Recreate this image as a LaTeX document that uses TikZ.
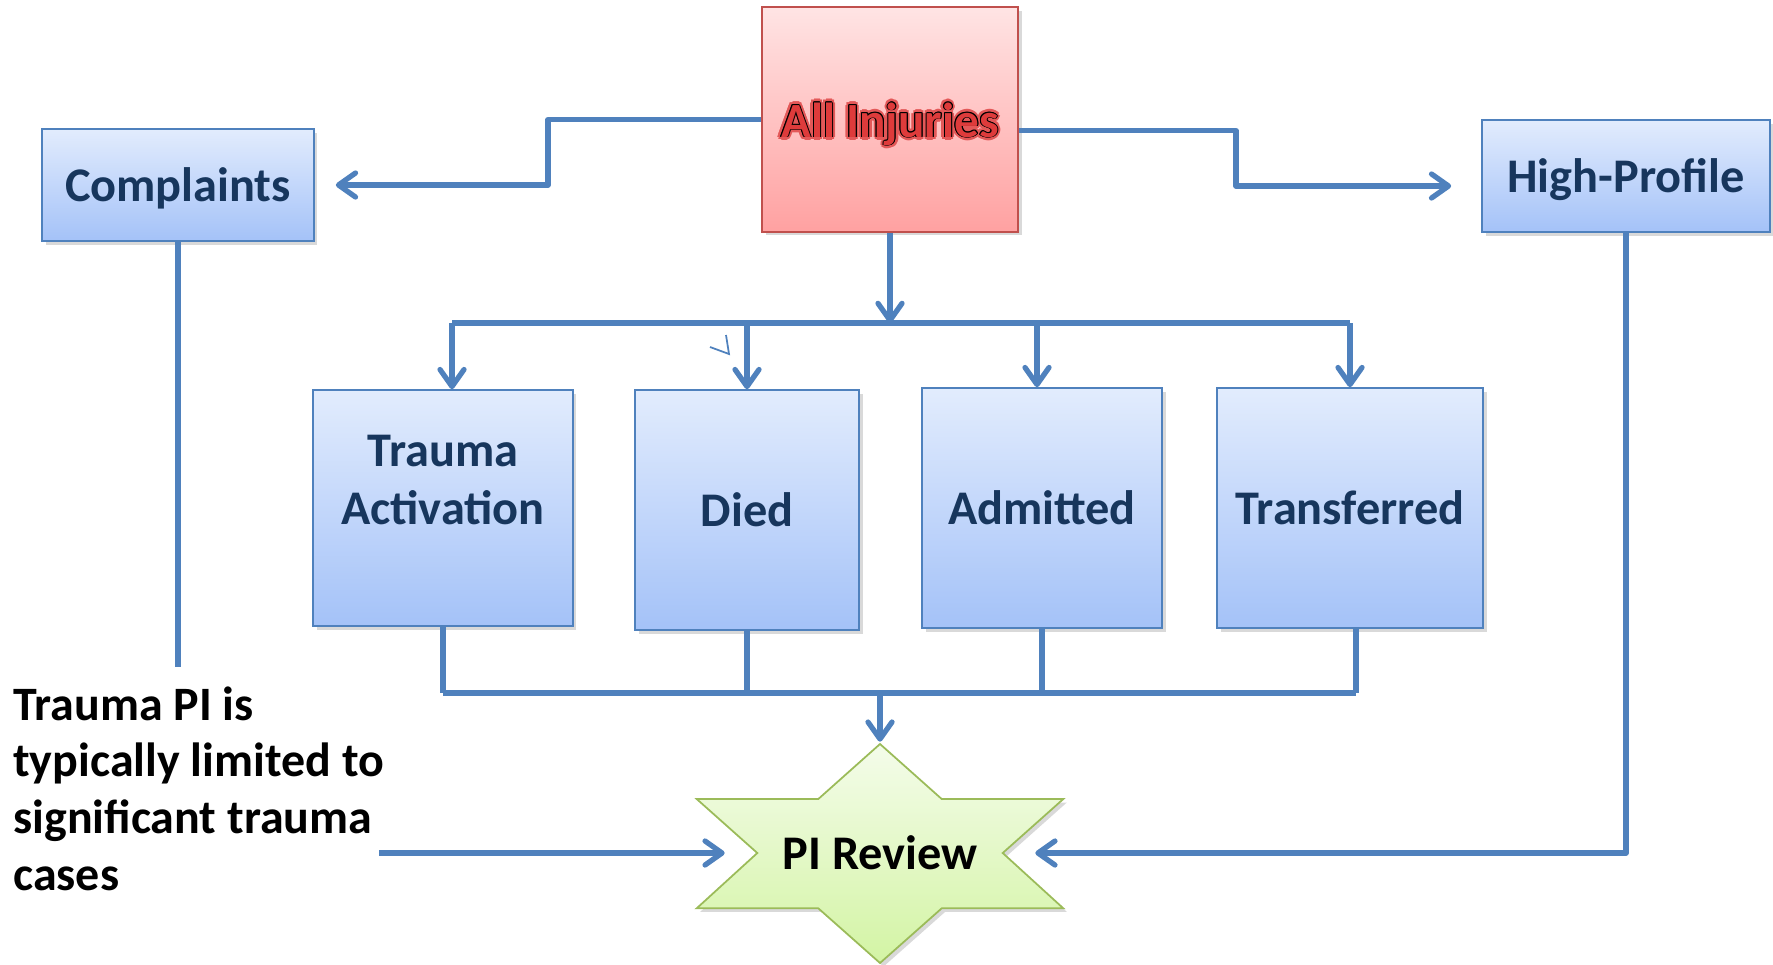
\documentclass[tikz,border=0pt]{standalone}
\usepackage{fontspec}
\setmainfont{Carlito}
\usepackage{tikz}
\usetikzlibrary{arrows.meta,positioning,shadows,calc}

\definecolor{linkblue}{HTML}{4F81BD}
\definecolor{boxtop}{HTML}{E2ECFD}
\definecolor{boxbot}{HTML}{A4C2F8}
\definecolor{navy}{HTML}{17365D}
\definecolor{redtop}{HTML}{FFE4E4}
\definecolor{redbot}{HTML}{FFA1A1}
\definecolor{redline}{HTML}{C0504D}
\definecolor{injred}{HTML}{DE3B3B}
\definecolor{startop}{HTML}{F4FCEA}
\definecolor{starbot}{HTML}{D3F4A4}
\definecolor{starline}{HTML}{9BBB59}

\newlength\ringr
\newcommand\ring[3]{\setlength\ringr{#1}%
  \foreach \dx/\dy in {1/0,.7/.7,0/1,-.7/.7,-1/0,-.7/-.7,0/-1,.7/-.7}
    {\makebox[0pt][l]{\kern\dx\ringr\raisebox{\dy\ringr}{\color{#2}#3}}}}
\newcommand\glowtext[1]{\ring{2pt}{injred!85}{#1}\ring{1.2pt}{injred!85}{#1}%
  \ring{.55pt}{black}{#1}{\color{injred}#1}}

\begin{document}
\begin{tikzpicture}[x=.02cm,y=-.02cm,
  link/.style={draw=linkblue,line width=3pt,line join=round},
  arr/.style={link,-{Straight Barb[length=3.4mm,width=4.8mm,round]}},
  shade box/.style={line width=1pt,inner sep=0pt,
    drop shadow={shadow xshift=2pt,shadow yshift=-2pt,opacity=.3}},
  bluebox/.style={shade box,draw=linkblue,top color=boxtop,bottom color=boxbot,
    font=\fontsize{27.5}{33}\selectfont\bfseries,text=navy,align=center},
  redbox/.style={shade box,draw=redline,top color=redtop,bottom color=redbot,
    font=\fontsize{28}{34}\selectfont\bfseries}]
  \useasboundingbox (0,0) rectangle (1773,964);

  % boxes
  \node[redbox,minimum width=5.12cm,minimum height=4.5cm] (allinj) at (890,119.5) {\raisebox{-.35cm}[0pt][0pt]{\glowtext{All Injuries}}};
  \node[bluebox,minimum width=5.44cm,minimum height=2.24cm,text depth=0pt] (compl) at (178,185) {Complaints};
  \node[bluebox,minimum width=5.76cm,minimum height=2.24cm,text depth=0pt] (hprof) at (1626,176) {High-Profile};
  \node[bluebox,minimum width=5.2cm,minimum height=4.72cm,text depth=1.12cm] (trauma) at (443,508) {Trauma\\Activation};
  \node[bluebox,minimum width=4.48cm,minimum height=4.8cm] (died) at (747,510) {Died};
  \node[bluebox,minimum width=4.8cm,minimum height=4.8cm] (admit) at (1042,508) {Admitted};
  \node[bluebox,minimum width=5.32cm,minimum height=4.8cm] (trans) at (1350,508) {Transferred};

  % review star
  \path[draw=starline,line width=1pt,top color=startop,bottom color=starbot,
    drop shadow={shadow xshift=2pt,shadow yshift=-2pt,opacity=.3}]
    (880,744) -- (941.7,799) -- (1063.3,799) -- (1002.7,853) -- (1063.3,908.3)
    -- (941.7,908.3) -- (880,963) -- (818.3,908.3) -- (696.7,908.3)
    -- (757.3,853) -- (696.7,799) -- (818.3,799) -- cycle;
  \node[minimum width=6.2cm,minimum height=4.44cm,inner sep=0pt,
    font=\fontsize{27.5}{33}\selectfont\bfseries] (review) at (880,853) {PI Review};

  \node[anchor=north west,inner sep=0pt,align=left,
    font=\fontsize{27.3}{32.4}\selectfont\bfseries] (note) at (13,686)
    {Trauma PI is\\typically limited to\\significant trauma\\cases};

  % feeds from all injuries
  \coordinate (lbend) at (548,185);
  \coordinate (rbend) at (1236,186);
  \coordinate (topbus) at (890,323);
  \draw[arr,shorten >=.42cm] (allinj.west) -| (lbend) -- (compl.east);
  \draw[arr,shorten >=.6cm] ([yshift=-.22cm]allinj.east) -| (rbend) -- (hprof.west |- rbend);
  \draw[arr] (allinj.south) -- (topbus);

  \coordinate (busa) at (452,323);
  \coordinate (busb) at (747,323);
  \coordinate (busc) at (1037,323);
  \coordinate (busd) at (1350,323);
  \draw[link] (busa) -- (busd);
  \foreach \c/\n in {busa/trauma,busb/died,busc/admit,busd/trans}
    \draw[arr] (\c) -- (\c |- \n.north);
  \draw[linkblue,line width=1pt] (710,347) -- (729,354) -- (726,335);

  % into review
  \coordinate (lowbus) at (880,693);
  \foreach \n/\s in {trauma/0,died/0,admit/0,trans/.12}
    \draw[link] ([xshift=\s cm]\n.south) -- ([xshift=\s cm]\n.south |- lowbus);
  \draw[link] (trauma.south |- lowbus) -- ([xshift=.12cm]trans.south |- lowbus);
  \draw[arr] (lowbus) -- (review.north);

  \coordinate (cend) at (178,667);
  \coordinate (nstart) at (379,853);
  \draw[link] (compl.south) -- (cend);
  \draw[arr] (nstart) -- (review.west);
  \draw[arr] (hprof.south) |- (review.east);
\end{tikzpicture}
\end{document}
